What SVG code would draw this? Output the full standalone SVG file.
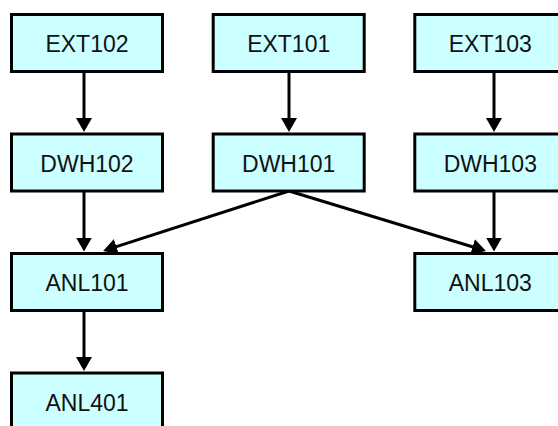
<svg xmlns="http://www.w3.org/2000/svg" width="558" height="426" viewBox="0 0 558 426">
  <style>
    .box rect { fill: #ccffff; stroke: #000; stroke-width: 3; }
    .box text { font-family: "Liberation Sans", Arial, sans-serif; font-size: 23px; fill: #111; text-anchor: middle; }
    .edge { stroke: #000; stroke-width: 3; fill: none; marker-end: url(#arrow); }
  </style>
  <defs>
    <marker id="arrow" viewBox="0 0 14 16" refX="4" refY="8" markerWidth="14" markerHeight="16" markerUnits="userSpaceOnUse" orient="auto">
      <path d="M0,0 L14,8 L0,16 Z" fill="#000"/>
    </marker>
  </defs>

  <!-- connectors: each line stops 10px short of the target; the marker tip covers the rest -->
  <g id="connectors">
    <line class="edge" x1="84" y1="72" x2="84" y2="122"/>
    <line class="edge" x1="289" y1="72" x2="289" y2="122"/>
    <line class="edge" x1="494" y1="72" x2="494" y2="122"/>
    <line class="edge" x1="84" y1="192" x2="84" y2="241.5"/>
    <line class="edge" x1="494" y1="192" x2="494" y2="241.5"/>
    <line class="edge" x1="289" y1="191" x2="112.6" y2="247.9"/>
    <line class="edge" x1="289" y1="191" x2="476.4" y2="248"/>
    <line class="edge" x1="84" y1="312" x2="84" y2="361"/>
  </g>

  <g id="EXT102" class="box"><rect x="11.5" y="14.5" width="151" height="57"/><text x="87" y="52">EXT102</text></g>
  <g id="EXT101" class="box"><rect x="213.2" y="14.5" width="151" height="57"/><text x="288.7" y="52">EXT101</text></g>
  <g id="EXT103" class="box"><rect x="414.8" y="14.5" width="151" height="57"/><text x="490.3" y="52">EXT103</text></g>

  <g id="DWH102" class="box"><rect x="11.5" y="134" width="151" height="57"/><text x="87" y="171.5">DWH102</text></g>
  <g id="DWH101" class="box"><rect x="213.2" y="134" width="151" height="57"/><text x="288.7" y="171.5">DWH101</text></g>
  <g id="DWH103" class="box"><rect x="414.8" y="134" width="151" height="57"/><text x="490.3" y="171.5">DWH103</text></g>

  <g id="ANL101" class="box"><rect x="11.5" y="253.5" width="151" height="57"/><text x="87" y="291">ANL101</text></g>
  <g id="ANL103" class="box"><rect x="414.8" y="253.5" width="151" height="57"/><text x="490.3" y="291">ANL103</text></g>

  <g id="ANL401" class="box"><rect x="11.5" y="373" width="151" height="57"/><text x="87" y="410.5">ANL401</text></g>
</svg>
